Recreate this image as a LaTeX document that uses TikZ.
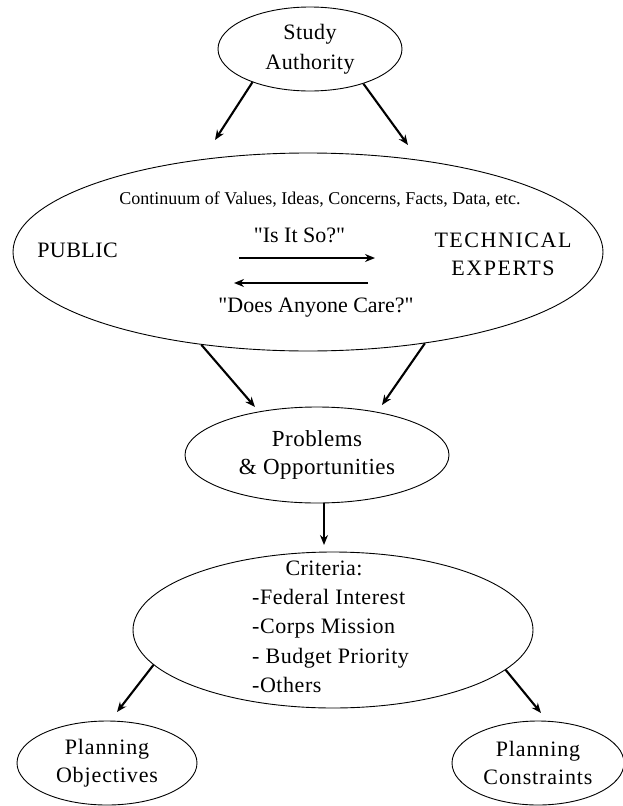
\documentclass[tikz,border=0pt]{standalone}
\usepackage{fontspec}
\setmainfont{Liberation Serif}[Ligatures=TeXOff]
\usetikzlibrary{shapes.geometric,arrows.meta}
\begin{document}
\begin{tikzpicture}[x=1pt,y=-1pt,
  oval/.style={draw, ellipse, line width=0.9pt, inner sep=0pt},
  arr/.style={-{Stealth[length=10pt,width=8pt]}, line width=2.1pt},
  txt/.style={inner sep=0pt, align=center},
  fs/.style={font=\fontsize{22}{29}\selectfont},
]
\useasboundingbox (0,0) rectangle (623,806);

% ellipses
\node[oval, minimum width=184pt, minimum height=84pt, txt,
      font=\fontsize{22}{30}\selectfont\addfontfeature{LetterSpace=2}] (sa) at (310,49) {Study\\Authority};
\node[oval, minimum width=590pt, minimum height=198pt] (big) at (308,252) {};
\node[oval, minimum width=264pt, minimum height=96pt, txt,
      font=\fontsize{23}{28.5}\selectfont\addfontfeature{LetterSpace=2}] (prob) at (317,455) {Problems\\\& Opportunities};
\node[oval, minimum width=400pt, minimum height=156pt] (crit) at (333,630) {};
\node[oval, minimum width=180pt, minimum height=84pt, txt,
      font=\fontsize{22}{27.5}\selectfont\addfontfeature{LetterSpace=4}] (obj) at (107,763) {Planning\\Objectives};
\node[oval, minimum width=172pt, minimum height=84pt, txt,
      font=\fontsize{22}{28}\selectfont\addfontfeature{LetterSpace=4}] (con) at (538,763) {Planning\\Constraints};

% texts inside the big ellipse
\node[txt, font=\fontsize{18}{20}\selectfont] (cont) at (320,200) {Continuum of Values, Ideas, Concerns, Facts, Data, etc.};
\node[txt, font=\fontsize{22}{28}\selectfont\addfontfeature{LetterSpace=2}] (pub) at (77.5,250) {PUBLIC};
\node[txt, font=\fontsize{22}{28}\selectfont\addfontfeature{LetterSpace=7}] (tech) at (503,254) {TECHNICAL\\EXPERTS};
\node[txt, fs] (isso) at (299.5,235) {"Is It So?"};
\node[txt, fs] (care) at (316,308) {"Does Anyone Care?"};

% criteria texts
\node[txt, font=\fontsize{22}{29.5}\selectfont\addfontfeature{LetterSpace=2}] (crithead) at (324,568) {Criteria:};
\node[txt, anchor=west, align=left, font=\fontsize{22}{29.5}\selectfont\addfontfeature{LetterSpace=2.5}] (critlist) at (252,641)
  {-Federal Interest\\-Corps Mission\\- Budget Priority\\-Others};

% coordinates for free arrow ends
\coordinate (t1) at (215,140);
\coordinate (t2) at (408,145);
\coordinate (t3) at (255,407);
\coordinate (t4) at (382,405);
\coordinate (pc) at (324,545);
\coordinate (t5) at (117,712);
\coordinate (t6) at (541,713);
\coordinate (r1) at (239,258);
\coordinate (r2) at (375,258);
\coordinate (l1) at (368,283);
\coordinate (l2) at (234,283);

% connectors
\draw[arr] (sa.210.8) -- (t1);
\draw[arr] (sa.327.3) -- (t2);
\draw[arr] (big.221.5) -- (t3);
\draw[arr] (big.322.4) -- (t4);
\draw[arr] (pc |- prob.south) -- (pc);
\draw[arr] (crit.191.6) -- (t5);
\draw[arr] (crit.347.7) -- (t6);
\draw[arr] (r1) -- (r2);
\draw[arr] (l1) -- (l2);
\end{tikzpicture}
\end{document}
